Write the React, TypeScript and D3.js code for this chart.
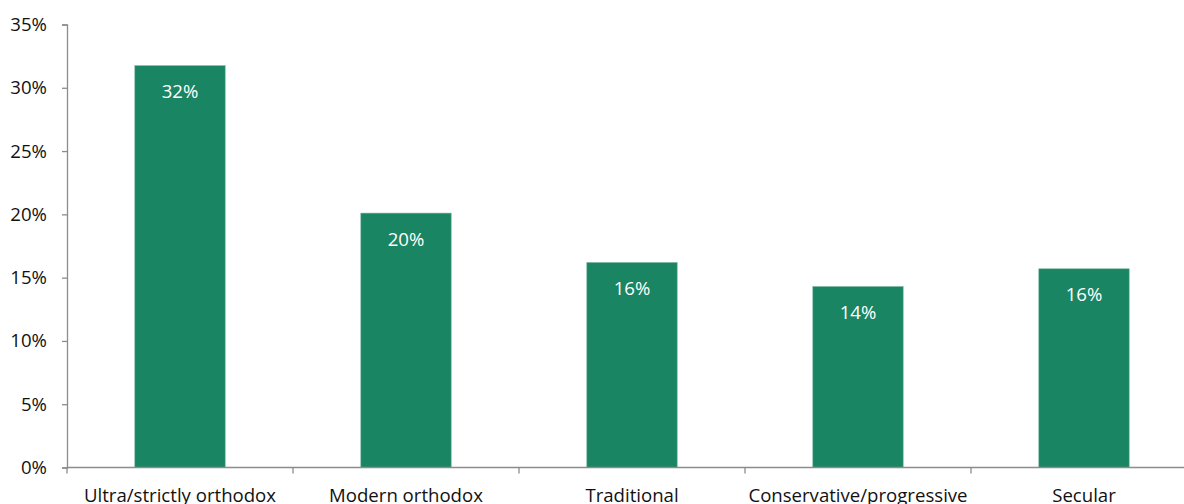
import React, { useEffect, useRef } from "react";
import * as d3 from "d3";

// Share of respondents by religious identity (percent)
const categories = [
  "Ultra/strictly orthodox",
  "Modern orthodox",
  "Traditional",
  "Conservative/progressive",
  "Secular",
];
const values = [31.75, 20.1, 16.2, 14.3, 15.7];
const yTicks = [0, 5, 10, 15, 20, 25, 30, 35];

const W = 1184;
const H = 504;
const FONT = "'Open Sans', Lato, sans-serif";
const FS = 18.6;
const BAR = "#1a8563";
const AXIS = "#8c8c8c";

export default function App() {
  const yAxisRef = useRef<SVGGElement>(null);

  const x = d3
    .scaleBand<string>()
    .domain(categories)
    .range([67, 1197])
    .paddingInner(0.6)
    .paddingOuter(0.3);
  const y = d3.scaleLinear().domain([0, 35]).range([467.5, 24.5]);
  const step = x.step();
  const x0 = 67;

  useEffect(() => {
    const g = d3.select(yAxisRef.current!);
    g.selectAll("*").remove();
    g.call(
      d3
        .axisLeft(y)
        .tickValues(yTicks)
        .tickSize(5)
        .tickPadding(15)
        .tickFormat((d) => `${d}%`)
    );
    g.select(".domain").attr("stroke", AXIS).attr("stroke-width", 1.3);
    g.selectAll(".tick line").attr("stroke", AXIS).attr("stroke-width", 1.3);
    g.selectAll(".tick text")
      .attr("fill", "#111")
      .style("font-family", FONT)
      .style("font-size", `${FS}px`);
  }, []);

  const fmt = (v: number) => `${Math.round(v)}%`;

  return (
    <svg
      width={W}
      height={H}
      style={{ position: "absolute", left: 0, top: 0, background: "#fff" }}
    >
      {categories.map((c, i) => (
        <g key={c}>
          <rect
            x={x(c)}
            y={y(values[i])}
            width={x.bandwidth()}
            height={y(0) - y(values[i])}
            fill={BAR}
            stroke="#7bb8a4"
            strokeWidth={0.6}
          />
          <text
            x={x(c)! + x.bandwidth() / 2}
            y={y(values[i]) + 26}
            dy="0.35em"
            textAnchor="middle"
            fill="#fff"
            fontFamily={FONT}
            fontSize={FS}
          >
            {fmt(values[i])}
          </text>
          <text
            x={x(c)! + x.bandwidth() / 2}
            y={502}
            textAnchor="middle"
            fill="#111"
            fontFamily={FONT}
            fontSize={FS}
          >
            {c}
          </text>
        </g>
      ))}
      {/* category axis with boundary ticks */}
      <line x1={x0} x2={W} y1={y(0)} y2={y(0)} stroke={AXIS} strokeWidth={1.3} />
      {d3.range(categories.length + 1).map((i) => (
        <line
          key={i}
          x1={x0 + i * step}
          x2={x0 + i * step}
          y1={y(0)}
          y2={y(0) + 6}
          stroke={AXIS}
          strokeWidth={1.3}
        />
      ))}
      <g ref={yAxisRef} transform={`translate(${x0},0)`} />
    </svg>
  );
}
